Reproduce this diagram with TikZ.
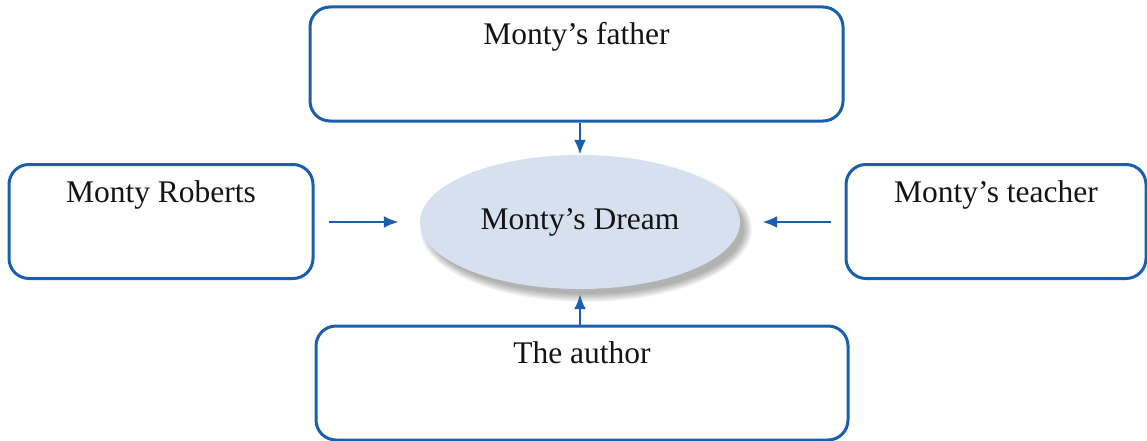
\documentclass[tikz,border=0pt]{standalone}
\usepackage{fontspec}
\setmainfont{Liberation Serif}
\usetikzlibrary{arrows.meta,shapes.geometric}
\definecolor{mblue}{HTML}{1A5FAD}
\definecolor{efill}{HTML}{D6E0EE}
\begin{document}
\begin{tikzpicture}[x=1pt,y=-1pt,
  box/.style={draw=mblue,line width=3pt,rounded corners=20pt,minimum width=#1,minimum height=114pt,inner sep=0pt},
  box/.default=533pt,
  lbl/.style={anchor=north,inner sep=0pt,yshift=-17pt,text=black!92,font=\fontsize{31.5}{36}\selectfont},
  conn/.style={draw=mblue,line width=2.6pt,-{Latex[length=15pt,width=12pt]}}]
\useasboundingbox (0,0) rectangle (1147,441);
% shadow of ellipse (soft)
\foreach \i in {1,...,10}{
  \fill[black,opacity=0.035] (586,229) ellipse ({157+\i*0.9} and {64+\i*0.9});
}
\node[ellipse,fill=efill,minimum width=320pt,minimum height=134pt,inner sep=0pt,
  font=\fontsize{31.5}{36}\selectfont,text=black!92] (d) at (580,222) {Monty’s Dream};
\node[box=533pt] (f) at (576.5,64) {};
\node[lbl] at (f.north) {Monty’s father};
\node[box=304pt] (r) at (161,221.5) {};
\node[lbl] at (r.north) {Monty Roberts};
\node[box=300pt] (t) at (996,221.5) {};
\node[lbl] at (t.north) {Monty’s teacher};
\node[box=532pt] (a) at (582,383) {};
\node[lbl] at (a.north) {The author};
\draw[conn] (f.south -| d.north) -- (d.north);
\draw[conn,shorten >=5pt] (a.north -| d.south) -- (d.south);
\draw[conn,shorten <=14pt,shorten >=21pt] (r.east |- d.west) -- (d.west);
\draw[conn,shorten <=14pt,shorten >=22pt] (t.west |- d.east) -- (d.east);
\end{tikzpicture}
\end{document}
